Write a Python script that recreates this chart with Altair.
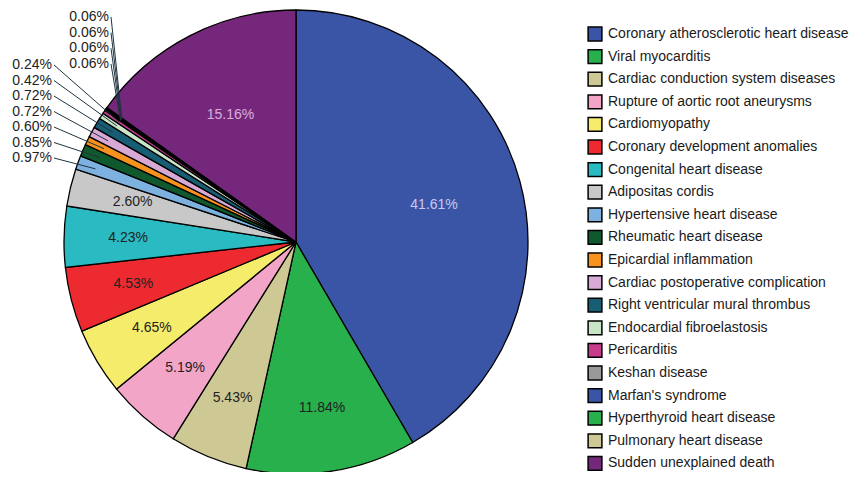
import altair as alt
import pandas as pd

categories = [
    "Coronary atherosclerotic heart disease",
    "Viral myocarditis",
    "Cardiac conduction system diseases",
    "Rupture of aortic root aneurysms",
    "Cardiomyopathy",
    "Coronary development anomalies",
    "Congenital heart disease",
    "Adipositas cordis",
    "Hypertensive heart disease",
    "Rheumatic heart disease",
    "Epicardial inflammation",
    "Cardiac postoperative complication",
    "Right ventricular mural thrombus",
    "Endocardial fibroelastosis",
    "Pericarditis",
    "Keshan disease",
    "Marfan's syndrome",
    "Hyperthyroid heart disease",
    "Pulmonary heart disease",
    "Sudden unexplained death",
]
values = [41.61, 11.84, 5.43, 5.19, 4.65, 4.53, 4.23, 2.60, 0.97, 0.85,
          0.60, 0.72, 0.72, 0.42, 0.24, 0.06, 0.06, 0.06, 0.06, 15.16]
colors = [
    "#3a55a6", "#27b04b", "#cec994", "#f3a5c8", "#f6ec6c", "#ed2a2f",
    "#2abac1", "#c8c8c8", "#7db2e0", "#10592e", "#f7921e", "#d8a9d5",
    "#175d74", "#c9e5c8", "#c73d8c", "#999999", "#3a55a6", "#27b04b",
    "#cec994", "#75287b",
]

df = pd.DataFrame({"category": categories, "value": values, "idx": list(range(len(values)))})

CX, CY, R = 288, 234, 232
FONT = "Liberation Sans"

base = (
    alt.Chart(df)
    .transform_window(cum="sum(value)", sort=[alt.SortField("idx")], frame=[None, 0])
    .transform_joinaggregate(total="sum(value)")
    .transform_calculate(
        mid="(datum.cum - datum.value/2) / datum.total * 2 * PI",
        label="format(datum.value, '.2f') + '%'",
        grp="datum.value < 0.1 ? 'B' : (datum.value < 1 ? 'A' : 'in')",
    )
    .transform_window(k="row_number()", groupby=["grp"], sort=[alt.SortField("idx")])
)

pie = alt.Chart(df).mark_arc(radius=R, stroke="black", strokeWidth=1.3).encode(
    theta=alt.Theta("value:Q", stack=True),
    order=alt.Order("idx:Q"),
    color=alt.Color(
        "category:N",
        sort=categories,
        scale=alt.Scale(domain=categories, range=colors),
        legend=alt.Legend(
            title=None,
            orient="none",
            legendX=579,
            legendY=18,
            symbolType="square",
            symbolSize=190,
            symbolStrokeColor="black",
            symbolStrokeWidth=1.5,
            labelFont=FONT,
            labelFontSize=14,
            labelColor="#1a1a1a",
            labelLimit=0,
            labelOffset=5,
            rowPadding=2.6,
        ),
    ),
    x=alt.value(CX),
    y=alt.value(CY),
)

inside = (
    base.transform_filter("datum.grp == 'in'")
    .transform_calculate(
        r="datum.value > 15 ? 143 : 168",
        tcol="datum.value > 40 ? '#c8c8f2' : (datum.value > 15 ? '#dbaedb' : '#222222')",
    )
    .transform_calculate(
        tx=f"{CX} + datum.r * sin(datum.mid)",
        ty=f"{CY} - datum.r * cos(datum.mid)",
    )
    .mark_text(font=FONT, fontSize=14, align="center", baseline="middle")
    .encode(
        x=alt.X("tx:Q", scale=None, axis=None),
        y=alt.Y("ty:Q", scale=None, axis=None),
        text="label:N",
        color=alt.Color("tcol:N", scale=None, legend=None),
    )
)

outside_base = base.transform_filter("datum.grp != 'in'").transform_calculate(
    lx="datum.grp == 'B' ? 101 : 44",
    ly="datum.grp == 'B' ? 56 - 15.7 * (datum.k - 1) : 150 - 15.5 * (datum.k - 1)",
    ex=f"{CX} + {R} * 0.92 * sin(datum.mid)",
    ey=f"{CY} - {R} * 0.92 * cos(datum.mid)",
)

out_text = outside_base.mark_text(
    font=FONT, fontSize=14, align="right", baseline="middle", color="#222222"
).encode(
    x=alt.X("lx:Q", scale=None, axis=None),
    y=alt.Y("ly:Q", scale=None, axis=None),
    text="label:N",
)

leaders = outside_base.transform_calculate(sx="datum.lx + 2").mark_rule(
    color="#1f3340", strokeWidth=1
).encode(
    x=alt.X("sx:Q", scale=None, axis=None),
    y=alt.Y("ly:Q", scale=None, axis=None),
    x2="ex:Q",
    y2="ey:Q",
)

chart = (
    alt.layer(pie, leaders, inside, out_text)
    .properties(
        width=841,
        height=464,
        padding=0,
        autosize=alt.AutoSizeParams(type="none"),
        background="white",
    )
    .configure_view(stroke=None)
)

chart.save("out.html", embed_options={"renderer": "svg", "actions": False})
